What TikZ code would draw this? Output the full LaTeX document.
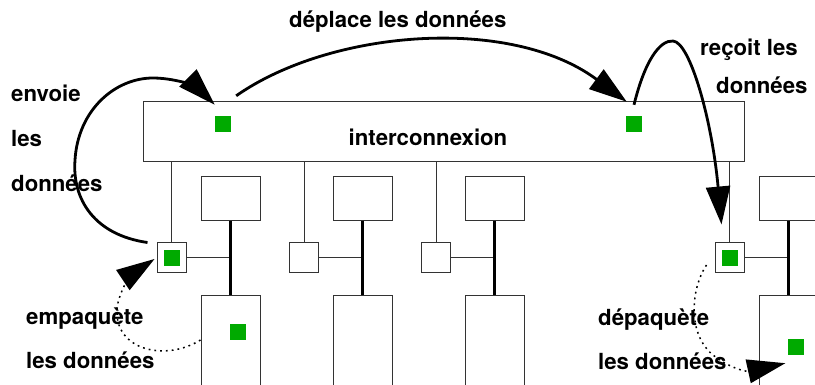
\documentclass[tikz,border=0pt]{standalone}
\usepackage{fontspec}
\setmainfont{TeX Gyre Heros}
\usetikzlibrary{arrows.meta,calc}
\definecolor{gr}{RGB}{0,170,0}
\begin{document}
\begin{tikzpicture}[x=1pt,y=-1pt,
  frame/.style={draw=black!80, line width=1pt, fill=white, inner sep=0pt, rectangle},
  ubox/.style={frame, minimum width=59pt, minimum height=44pt},
  lbox/.style={frame, minimum width=59pt, minimum height=100pt},
  sq/.style={frame, minimum width=29pt, minimum height=30pt},
  gsq/.style={fill=gr, inner sep=0pt, minimum size=16pt, rectangle},
  wire/.style={draw=black!80, line width=1pt},
  bus/.style={draw=black, line width=3pt},
  arr/.style={draw=black, line width=2.8pt, -{Triangle[length=38pt,width=24pt]}},
  darr/.style={draw=black, line width=1.5pt, dash pattern=on 1.8pt off 4pt, -{Triangle[length=38pt,width=24pt]}},
  lbl/.style={font=\fontsize{22.2}{26}\selectfont\bfseries, inner sep=0pt, anchor=base west}]
\useasboundingbox (0,0) rectangle (815,384);
\clip (0,0) rectangle (815,384);

% interconnection bar
\node[frame, minimum width=601pt, minimum height=60pt] (ic) at (443.5,131) {};
\node[lbl, anchor=base] (ictext) at (428,145) {interconnexion};

% columns
\foreach \i/\sx/\tx in {1/171.5/230.5, 2/304/362.5, 3/436/494.5, 4/729.5/788.5}{
  \node[ubox] (u\i) at (\tx,198) {};
  \node[lbox] (l\i) at (\tx,345) {};
  \node[sq] (s\i) at (\sx,257) {};
  \draw[wire] (s\i.north) -- (s\i.north |- ic.south);
  \draw[wire] (s\i.east) -- (s\i.east -| u\i.south);
  \draw[bus] (u\i.south) -- (l\i.north);
}

% green data squares
\node[gsq] (g1) at (223,124) {};
\node[gsq] (g2) at (634,124) {};
\node[gsq] (gs1) at (172,258) {};
\node[gsq] (gl1) at (238,332) {};
\node[gsq] (gs4) at (729.5,258) {};
\node[gsq] (gl4) at (795.5,347) {};

% arrows
\draw[arr] ($(s1.north west)+(-9,1)$) .. controls (95,235) and (72,200) .. (75,160)
  .. controls (78,110) and (115,78) .. (153,78)
  .. controls (180,78) and (200,90) .. ($(g1.north west)+(0,-11)$);
\draw[arr] ($(g1.north east)+(5,-20)$) .. controls (330,30) and (510,15) .. ($(g2.north west)+(1,-14)$);
\draw[arr] ($(g2.north)+(0,-11)$) .. controls (645,60) and (660,40) .. (673,41)
  .. controls (690,42) and (712,120) .. ($(s4.north west)+(7,-17)$);
\draw[darr] ($(l1.west)+(0,-5)$) .. controls (165,362) and (115,350) .. (117,310)
  .. controls (118,290) and (135,272) .. ($(s1.west)+(-2,2)$);
\draw[darr] ($(s4.west)+(-8,8)$) .. controls (690,290) and (688,335) .. (713,355)
  .. controls (728,367) and (745,372) .. ($(gl4.south west)+(-2,8)$);

% labels
\node[lbl] (t1) at (11,101) {envoie};
\node[lbl] (t2) at (11,146) {les};
\node[lbl] (t3) at (11,191) {données};
\node[lbl] (t4) at (26,324) {empaquète};
\node[lbl] (t5) at (26,368) {les données};
\node[lbl] (t6) at (289,27) {déplace les données};
\node[lbl] (t7) at (700,55) {reçoit les};
\node[lbl] (t8) at (716,93) {données};
\node[lbl] (t9) at (598,325) {dépaquète};
\node[lbl] (t10) at (598,369) {les données};
\end{tikzpicture}
\end{document}
